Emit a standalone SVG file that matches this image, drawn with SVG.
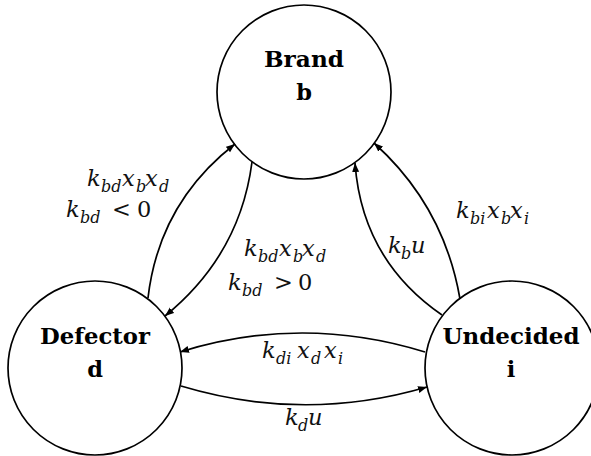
<svg xmlns="http://www.w3.org/2000/svg" width="591" height="456" viewBox="0 0 591 456">
<style>
.node{fill:#fff;stroke:#000;stroke-width:1.7}
.nt{font-family:'DejaVu Serif',serif;font-weight:bold;font-size:22.5px;text-anchor:middle;fill:#000}
.edge{fill:none;stroke:#000;stroke-width:1.7;marker-end:url(#arr)}
.lb{font-family:'DejaVu Serif',serif;font-style:italic;font-size:22.5px;fill:#111}
.sb{font-size:16px}
.up{font-style:normal}
</style>
<defs>
<marker id="arr" markerUnits="userSpaceOnUse" markerWidth="10" markerHeight="8" refX="9" refY="3.5" orient="auto">
<path d="M0,0 L9,3.5 L0,7 z" fill="#000"/>
</marker>
</defs>
<rect width="591" height="456" fill="#fff"/>
<g id="node-b">
<circle class="node" cx="304" cy="92" r="87"/>
<text class="nt" x="304" y="67" textLength="80" lengthAdjust="spacingAndGlyphs">Brand</text>
<text class="nt" x="304" y="100">b</text>
</g>
<g id="node-d">
<circle class="node" cx="95" cy="368" r="87"/>
<text class="nt" x="95" y="344" textLength="110" lengthAdjust="spacingAndGlyphs">Defector</text>
<text class="nt" x="95" y="377">d</text>
</g>
<g id="node-i">
<circle class="node" cx="512" cy="368" r="87"/>
<text class="nt" x="511" y="344" textLength="137" lengthAdjust="spacingAndGlyphs">Undecided</text>
<text class="nt" x="511" y="377">i</text>
</g>
<g id="connectors">
<path id="e-d-b" class="edge" d="M148,298 Q159,203 235,144"/>
<path id="e-b-d" class="edge" d="M252,162 Q240,255 165,316"/>
<path id="e-i-b-u" class="edge" d="M442,315 Q362,260 355,163"/>
<path id="e-i-b" class="edge" d="M460,299 Q444,206 374,143"/>
<path id="e-i-d" class="edge" d="M425,352 Q302,314 180,352"/>
<path id="e-d-i" class="edge" d="M181,386 Q304,423 427,387"/>
</g>
<g id="labels">
<text class="lb"><tspan x="87" y="186">k</tspan><tspan class="sb" x="101" y="192">bd</tspan><tspan x="122" y="186">x</tspan><tspan class="sb" x="136" y="192">b</tspan><tspan x="145" y="186">x</tspan><tspan class="sb" x="159" y="192">d</tspan></text>
<text class="lb"><tspan x="66" y="217">k</tspan><tspan class="sb" x="80" y="223">bd</tspan><tspan class="up" x="112" y="217">&lt;</tspan><tspan class="up" x="137" y="217">0</tspan></text>
<text class="lb"><tspan x="244" y="256">k</tspan><tspan class="sb" x="258" y="262">bd</tspan><tspan x="279" y="256">x</tspan><tspan class="sb" x="293" y="262">b</tspan><tspan x="302" y="256">x</tspan><tspan class="sb" x="316" y="262">d</tspan></text>
<text class="lb"><tspan x="228" y="290">k</tspan><tspan class="sb" x="242" y="296">bd</tspan><tspan class="up" x="274" y="290">&gt;</tspan><tspan class="up" x="298" y="290">0</tspan></text>
<text class="lb"><tspan x="456" y="218">k</tspan><tspan class="sb" x="470" y="224">bi</tspan><tspan x="487" y="218">x</tspan><tspan class="sb" x="501" y="224">b</tspan><tspan x="510" y="218">x</tspan><tspan class="sb" x="524" y="224">i</tspan></text>
<text class="lb"><tspan x="388" y="253">k</tspan><tspan class="sb" x="401" y="259">b</tspan><tspan x="411" y="253">u</tspan></text>
<text class="lb"><tspan x="262" y="358">k</tspan><tspan class="sb" x="276" y="364">di</tspan><tspan x="297" y="358">x</tspan><tspan class="sb" x="311" y="364">d</tspan><tspan x="324" y="358">x</tspan><tspan class="sb" x="338" y="364">i</tspan></text>
<text class="lb"><tspan x="285" y="425">k</tspan><tspan class="sb" x="298" y="431">d</tspan><tspan x="308" y="425">u</tspan></text>
</g>
</svg>
